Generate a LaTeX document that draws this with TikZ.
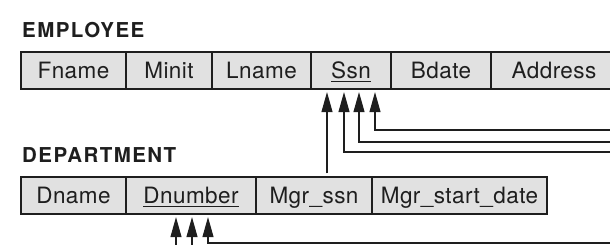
\documentclass[tikz,border=0pt]{standalone}
\usepackage{fontspec}
\setmainfont{TeX Gyre Heros}
\newfontfamily\titlefont[LetterSpace=7]{TeX Gyre Heros}
\newfontfamily\cellfont[LetterSpace=2]{TeX Gyre Heros}
\usetikzlibrary{arrows.meta}
\definecolor{cellfill}{RGB}{225,225,225}
\definecolor{ink}{RGB}{30,30,30}
\begin{document}
\begin{tikzpicture}[x=1pt,y=-1pt,
 cell/.style={draw=ink, fill=cellfill, line width=1.2pt, minimum height=37pt, text height=17pt, text depth=0pt, inner sep=0pt, font=\cellfont\fontsize{22.5}{26}\selectfont, text=ink},
 title/.style={anchor=base west, inner sep=0pt, font=\titlefont\fontsize{20.5}{24}\selectfont\bfseries, text=ink},
 link/.style={draw=ink, line width=1.1pt},
 fk/.style={link, -{Triangle[length=20pt,width=11pt]}, shorten >=2.5pt}]
\useasboundingbox (0,0) rectangle (610,245);
\clip (0,0) rectangle (610,245);
\node[title] (emp) at (22,38) {EMPLOYEE};
\node[cell, minimum width=105pt] (fname) at (73.5,70.5) {Fname};
\node[cell, minimum width=86pt] (minit) at (169,70.5) {Minit};
\node[cell, minimum width=99pt] (lname) at (261.5,70.5) {Lname};
\node[cell, minimum width=80pt] (ssn) at (351,70.5) {\underline{Ssn}};
\node[cell, minimum width=100pt] (bdate) at (441,70.5) {Bdate};
\node[cell, minimum width=126pt] (addr) at (554,70.5) {Address};
\node[title] (dept) at (22,163) {DEPARTMENT};
\node[cell, minimum width=105pt] (dname) at (73.5,195.5) {Dname};
\node[cell, minimum width=130pt] (dnum) at (191,195.5) {\underline{Dnumber}};
\node[cell, minimum width=116pt] (mgr) at (314,195.5) {Mgr\_ssn};
\node[cell, minimum width=175pt] (mgrd) at (459.5,195.5) {Mgr\_start\_date};
\coordinate (e1) at (615,130);
\coordinate (e2) at (615,142);
\coordinate (e3) at (615,152);
\draw[fk] (e1) -| ([xshift=24pt]ssn.south);
\draw[fk] (e2) -| ([xshift=8pt]ssn.south);
\draw[fk] (e3) -| ([xshift=-7pt]ssn.south);
\draw[fk, shorten <=3pt] ([xshift=13pt]mgr.north) -- ([xshift=-24pt]ssn.south);
\coordinate (d1) at (176,250);
\coordinate (d2) at (192,250);
\coordinate (d3) at (615,243);
\draw[fk] (d1) -- ([xshift=-15pt]dnum.south);
\draw[fk] (d2) -- ([xshift=1pt]dnum.south);
\draw[fk] (d3) -| ([xshift=17pt]dnum.south);
\end{tikzpicture}
\end{document}
